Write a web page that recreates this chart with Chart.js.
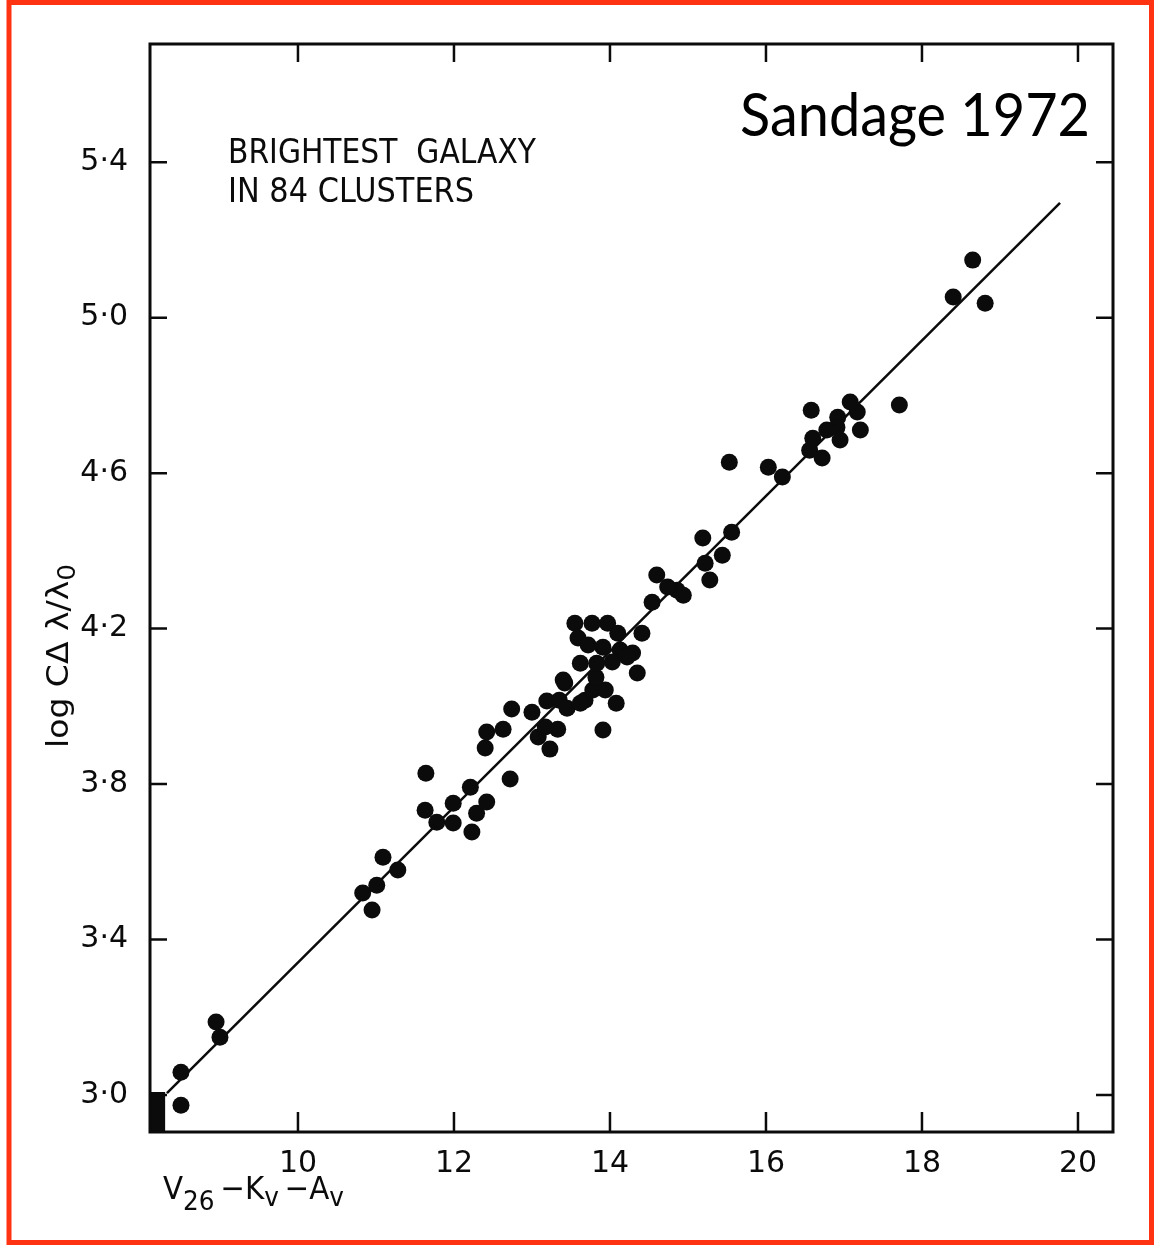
<!DOCTYPE html>
<html>
<head>
<meta charset="utf-8">
<title>Sandage 1972 – brightest galaxy in 84 clusters</title>
<script src="https://cdn.jsdelivr.net/npm/chart.js@4.4.1/dist/chart.umd.min.js"></script>
<style>
  html, body { margin: 0; padding: 0; background: #fff; }
  canvas { display: block; }
</style>
</head>
<body>
<canvas id="hubble" width="1154" height="1245"></canvas>
<script>
// V26 - Kv - Av of the brightest galaxy in each cluster
const magV = [
  8.50, 8.50, 8.95, 9.00,
  10.83, 10.95, 11.01, 11.09, 11.28,
  11.63, 11.64, 11.78, 11.99, 11.99, 12.21, 12.23, 12.29, 12.42,
  12.72, 12.40, 12.42, 12.63, 12.74, 13.00,
  13.08, 13.23, 13.33, 13.17, 13.19, 13.35, 13.42, 13.45,
  13.68, 13.78, 13.82, 13.62,
  13.55, 13.77, 13.97, 13.59, 14.10, 14.13, 13.72, 13.91, 13.62, 13.83,
  14.03, 13.40, 14.29, 14.35, 14.08, 13.91, 14.22, 13.94,
  14.41, 14.54, 14.86, 14.94, 14.60, 14.74,
  15.19, 15.56, 15.44, 15.22, 15.28, 15.53,
  16.03, 16.21,
  16.58, 17.08, 17.17, 16.92, 16.91, 16.78, 16.60, 16.95, 17.21, 16.56, 16.72,
  17.71, 18.40, 18.65, 18.81
];
// log c·Δλ/λ0 for the same clusters
const logCz = [
  3.059, 2.974, 3.188, 3.149,
  3.520, 3.476, 3.540, 3.612, 3.579,
  3.733, 3.828, 3.702, 3.700, 3.751, 3.792, 3.677, 3.725, 3.754,
  3.813, 3.893, 3.934, 3.941, 3.993, 3.985,
  3.921, 3.890, 3.941, 3.947, 4.014, 4.016, 4.060, 3.995,
  4.016, 4.042, 4.075, 4.008,
  4.214, 4.214, 4.214, 4.176, 4.188, 4.145, 4.158, 4.152, 4.111, 4.111,
  4.114, 4.068, 4.137, 4.086, 4.008, 3.939, 4.127, 4.042,
  4.188, 4.268, 4.299, 4.286, 4.338, 4.307,
  4.433, 4.448, 4.389, 4.368, 4.325, 4.628,
  4.615, 4.590,
  4.762, 4.783, 4.757, 4.744, 4.718, 4.711, 4.690, 4.685, 4.711, 4.659, 4.639,
  4.775, 5.053, 5.148, 5.037
];

// straight line of slope 0.2 through the points
const fitMag = [8.32, 19.77];
const fitLog = [3.005, 5.295];

// the inked corner at the origin of the plate
const inkMag = [8.0, 8.30];
const inkLog = [3.008, 3.008];

const xTicks = [10, 12, 14, 16, 18, 20];
const yTicks = [3.0, 3.4, 3.8, 4.2, 4.6, 5.0, 5.4];

const INK = '#0b0b0b';
const pts = (xs, ys) => xs.map((x, i) => ({ x, y: ys[i] }));

// draw a run of text pieces (main/subscript) squeezed to a given width
function drawRun(ctx, parts, x, y, width) {
  let total = 0;
  parts.forEach(p => { ctx.font = p.font; p.w = ctx.measureText(p.t).width; total += p.w; });
  const sx = width / total;
  ctx.save();
  ctx.translate(x, y);
  ctx.scale(sx, 1);
  let cx = 0;
  parts.forEach(p => {
    ctx.font = p.font;
    ctx.fillText(p.t, cx, p.dy || 0);
    cx += p.w;
  });
  ctx.restore();
}

const paper = {
  id: 'paper',
  beforeDraw(chart) {
    const ctx = chart.ctx;
    ctx.save();
    ctx.fillStyle = '#fff';
    ctx.fillRect(0, 0, chart.width, chart.height);
    ctx.restore();
  },
  afterDraw(chart) {
    const ctx = chart.ctx;
    const a = chart.chartArea;
    const xs = chart.scales.x, ys = chart.scales.y;
    ctx.save();

    // frame of the plot
    ctx.strokeStyle = INK;
    ctx.lineWidth = 3;
    ctx.strokeRect(a.left, a.top, a.right - a.left, a.bottom - a.top);

    // inward ticks on all four sides
    ctx.lineWidth = 2.5;
    ctx.beginPath();
    xTicks.forEach(v => {
      const px = xs.getPixelForValue(v);
      ctx.moveTo(px, a.bottom); ctx.lineTo(px, a.bottom - 20);
      ctx.moveTo(px, a.top); ctx.lineTo(px, a.top + 18);
    });
    yTicks.forEach(v => {
      const py = ys.getPixelForValue(v);
      ctx.moveTo(a.left, py); ctx.lineTo(a.left + 17, py);
      ctx.moveTo(a.right, py); ctx.lineTo(a.right - 17, py);
    });
    ctx.stroke();

    // caption inside the plot
    ctx.fillStyle = INK;
    ctx.textBaseline = 'alphabetic';
    ctx.textAlign = 'left';
    drawRun(ctx, [{ t: 'BRIGHTEST  GALAXY', font: '33px "DejaVu Sans"' }], 228, 163, 308);
    drawRun(ctx, [{ t: 'IN 84 CLUSTERS', font: '33px "DejaVu Sans"' }], 228, 202, 246);

    // source label
    ctx.fillStyle = '#000';
    drawRun(ctx, [{ t: 'Sandage 1972', font: '60px Lato' }], 740, 136, 350);

    // x axis title  V26 − Kv − Av
    ctx.fillStyle = INK;
    drawRun(ctx, [
      { t: 'V', font: '32px "DejaVu Sans"' },
      { t: '26', font: '27px "DejaVu Sans"', dy: 11 },
      { t: '\u2009\u2212K', font: '32px "DejaVu Sans"' },
      { t: 'v', font: '27px "DejaVu Sans"', dy: 7 },
      { t: '\u2009\u2212A', font: '32px "DejaVu Sans"' },
      { t: 'v', font: '27px "DejaVu Sans"', dy: 7 }
    ], 163, 1199, 181);

    // y axis title  log CΔλ/λ0, reading upwards
    ctx.save();
    ctx.translate(68, 748);
    ctx.rotate(-Math.PI / 2);
    drawRun(ctx, [
      { t: 'log C\u0394 \u03bb/\u03bb', font: '30px "DejaVu Sans"' },
      { t: '0', font: '24px "DejaVu Sans"', dy: 7 }
    ], 0, 0, 184);
    ctx.restore();

    // red frame round the slide
    ctx.strokeStyle = '#ff3312';
    ctx.lineWidth = 5;
    ctx.strokeRect(9, 2.5, 1142.5, 1240);
    ctx.restore();
  }
};

const tickFont = { family: '"DejaVu Sans"', size: 30 };

new Chart(document.getElementById('hubble'), {
  type: 'scatter',
  data: {
    datasets: [
      {
        label: 'ink',
        data: pts(inkMag, inkLog),
        showLine: true,
        fill: 'start',
        backgroundColor: INK,
        borderWidth: 0,
        pointRadius: 0
      },
      {
        label: 'fit',
        data: pts(fitMag, fitLog),
        showLine: true,
        fill: false,
        borderColor: INK,
        borderWidth: 2.5,
        pointRadius: 0
      },
      {
        label: 'clusters',
        data: pts(magV, logCz),
        pointRadius: 8.5,
        pointBackgroundColor: INK,
        pointBorderWidth: 0
      }
    ]
  },
  options: {
    responsive: false,
    animation: false,
    events: [],
    layout: { padding: { top: 44, right: 41, left: 0, bottom: 0 } },
    plugins: { legend: { display: false }, tooltip: { enabled: false } },
    scales: {
      x: {
        type: 'linear',
        min: 8.103,
        max: 20.449,
        afterBuildTicks: s => { s.ticks = xTicks.map(v => ({ value: v })); },
        afterFit: s => { s.height = 113; },
        grid: { display: false, drawTicks: false },
        border: { display: false },
        ticks: { padding: 14, font: tickFont, color: INK, maxRotation: 0 }
      },
      y: {
        type: 'linear',
        min: 2.905,
        max: 5.704,
        afterBuildTicks: s => { s.ticks = yTicks.map(v => ({ value: v })); },
        afterFit: s => { s.width = 150; },
        grid: { display: false, drawTicks: false },
        border: { display: false },
        ticks: {
          padding: 22,
          font: tickFont,
          color: INK,
          callback: v => v.toFixed(1).replace('.', '\u00b7')
        }
      }
    }
  },
  plugins: [paper]
});
</script>
</body>
</html>
